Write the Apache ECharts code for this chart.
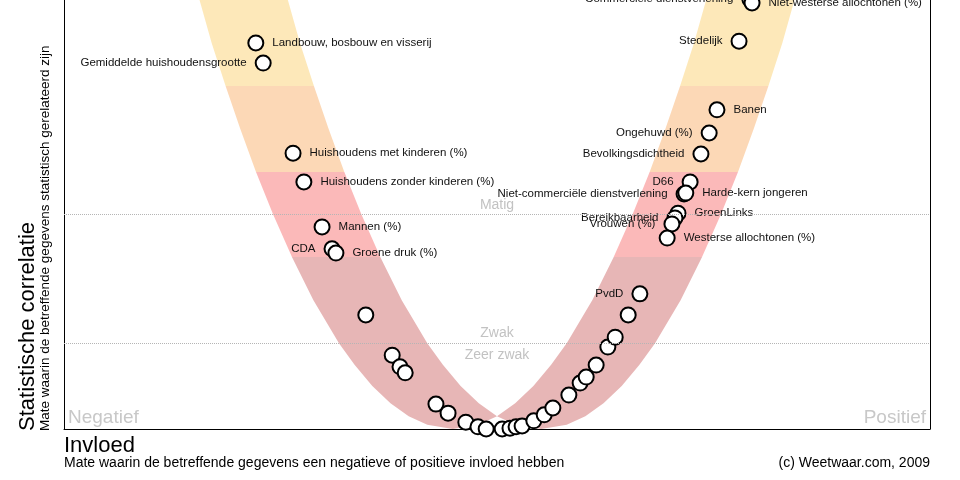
<!DOCTYPE html>
<html>
<head>
<meta charset="utf-8">
<script src="https://cdn.jsdelivr.net/npm/echarts@6/dist/echarts.min.js"></script>
<style>
  html, body { margin: 0; padding: 0; background: #fff; }
  #chart { width: 960px; height: 480px; }
</style>
</head>
<body>
<div id="chart"></div>
<script>
// punten: naam, invloed (x) en statistische correlatie (y)
const names = [
  'Landbouw, bosbouw en visserij', 'Gemiddelde huishoudensgrootte', 'Huishoudens met kinderen (%)',
  'Huishoudens zonder kinderen (%)', 'Mannen (%)', 'CDA', 'Groene druk (%)',
  '', '', '', '', '', '', '', '', '',
  '', '', '', '', '', '', '', '', '', '', '', '', '', '',
  'PvdD', 'GroenLinks', 'Bereikbaarheid', 'Vrouwen (%)', 'Westerse allochtonen (%)',
  'D66', 'Niet-commerciële dienstverlening', 'Harde-kern jongeren', 'Bevolkingsdichtheid',
  'Ongehuwd (%)', 'Banen', 'Stedelijk', 'Commerciële dienstverlening', 'Niet-westerse allochtonen (%)'
];
const influence = [
  -0.557, -0.540, -0.471, -0.446, -0.404, -0.381, -0.372,
  -0.303, -0.242, -0.224, -0.212, -0.141, -0.113, -0.072, -0.044, -0.025,
  0.012, 0.030, 0.044, 0.058, 0.085, 0.109, 0.129, 0.166, 0.192, 0.206, 0.229, 0.256, 0.273, 0.303,
  0.330, 0.418, 0.411, 0.404, 0.393,
  0.446, 0.432, 0.436, 0.471,
  0.490, 0.508, 0.559, 0.584, 0.589
];
const correlation = [
  0.900, 0.853, 0.643, 0.576, 0.471, 0.420, 0.410,
  0.266, 0.172, 0.145, 0.131, 0.058, 0.037, 0.016, 0.005, 0.000,
  0.000, 0.002, 0.005, 0.007, 0.019, 0.033, 0.049, 0.079, 0.107, 0.121, 0.149, 0.191, 0.214, 0.266,
  0.315, 0.503, 0.492, 0.478, 0.445,
  0.576, 0.548, 0.550, 0.641,
  0.690, 0.744, 0.904, 1.002, 0.993
];
const labelsLeft = ['Gemiddelde huishoudensgrootte', 'CDA', 'PvdD', 'Bereikbaarheid', 'Vrouwen (%)',
  'D66', 'Niet-commerciële dienstverlening', 'Bevolkingsdichtheid', 'Ongehuwd (%)', 'Stedelijk',
  'Commerciële dienstverlening'];

const bandLevels = [1.05, 1.0, 0.9, 0.8, 0.7, 0.6, 0.5, 0.4, 0.3, 0.2, 0.15, 0.1, 0.06, 0.03, 0.01, 0];
const bandCenter = [0.60, 0.585, 0.557, 0.525, 0.491, 0.455, 0.415, 0.371, 0.322, 0.263, 0.227, 0.186, 0.144, 0.102, 0.059, 0];
const bandHalfWidth = 0.102;
const bandBreaks = [0.8, 0.6, 0.4];
const bandColors = ['#fde8b9', '#fcd8b6', '#fbb9b9', '#e7b6b6'];

const font = 'Liberation Sans, Arial, sans-serif';
const chart = echarts.init(document.getElementById('chart'));

function renderBand(params, api) {
  const yTop = api.coord([0, bandLevels[0]])[1];
  const yBot = api.coord([0, 0])[1];
  const off = v => (bandLevels[0] - v) / bandLevels[0];
  const stops = [{ offset: 0, color: bandColors[0] }];
  bandBreaks.forEach((b, i) => {
    stops.push({ offset: off(b), color: bandColors[i] });
    stops.push({ offset: off(b), color: bandColors[i + 1] });
  });
  stops.push({ offset: 1, color: bandColors[bandColors.length - 1] });
  const fill = new echarts.graphic.LinearGradient(0, yTop, 0, yBot, stops, true);

  const branch = sign => {
    const pts = [];
    for (let i = 0; i < bandLevels.length; i++) {
      pts.push(api.coord([sign * (bandCenter[i] + bandHalfWidth), bandLevels[i]]));
    }
    for (let i = bandLevels.length - 1; i >= 0; i--) {
      pts.push(api.coord([sign * Math.abs(bandHalfWidth - bandCenter[i]), bandLevels[i]]));
    }
    return { type: 'polygon', shape: { points: pts }, style: { fill: fill } };
  };
  return { type: 'group', children: [branch(-1), branch(1)] };
}

const axisBase = {
  axisTick: { show: false }, axisLabel: { show: false }, splitLine: { show: false }
};

const option = {
  animation: false,
  grid: { left: 64, right: 30, top: 0, bottom: 51 },
  xAxis: Object.assign({
    type: 'value', min: -1, max: 1,
    axisLine: { show: true, onZero: false, lineStyle: { color: '#000', width: 1 } }
  }, axisBase),
  yAxis: [
    Object.assign({
      type: 'value', min: 0, max: 1, position: 'left',
      axisLine: { show: true, onZero: false, lineStyle: { color: '#000', width: 1 } }
    }, axisBase),
    Object.assign({
      type: 'value', min: 0, max: 1, position: 'right',
      axisLine: { show: true, onZero: false, lineStyle: { color: '#000', width: 1 } }
    }, axisBase)
  ],
  series: [
    {
      type: 'custom',
      renderItem: renderBand,
      data: [[0, 0]],
      clip: false,
      silent: true,
      z: 1
    },
    {
      type: 'scatter',
      z: 3,
      clip: false,
      symbol: 'circle',
      symbolSize: 15,
      itemStyle: { color: '#fff', borderColor: '#000', borderWidth: 2, opacity: 1 },
      emphasis: { disabled: true },
      label: {
        show: true,
        formatter: p => p.name,
        fontFamily: font, fontSize: 11.5, color: '#111', distance: 8
      },
      data: names.map((n, i) => ({
        name: n,
        value: [influence[i], correlation[i]],
        label: { position: labelsLeft.includes(n) ? 'left' : 'right' }
      })),
      markLine: {
        silent: true,
        symbol: 'none',
        lineStyle: { type: 'dotted', color: '#b5b5b5', width: 1 },
        label: { fontFamily: font, fontSize: 14, color: '#c2c2c2' },
        data: [
          { yAxis: 0.5, label: { formatter: 'Matig', position: 'insideMiddleTop', distance: 2 } },
          { yAxis: 0.2, label: { formatter: 'Zwak', position: 'insideMiddleTop', distance: 3 } },
          { yAxis: 0.2, label: { formatter: 'Zeer zwak', position: 'insideMiddleBottom', distance: 5 } }
        ]
      }
    }
  ],
  graphic: [
    { type: 'text', x: 28, y: 431, rotation: Math.PI / 2,
      style: { text: 'Statistische correlatie', fontFamily: font, fontSize: 22, fill: '#000', align: 'left', verticalAlign: 'middle' } },
    { type: 'text', x: 45, y: 431, rotation: Math.PI / 2,
      style: { text: 'Mate waarin de betreffende gegevens statistisch gerelateerd zijn', fontFamily: font, fontSize: 13.5, fill: '#000', align: 'left', verticalAlign: 'middle' } },
    { type: 'text', x: 64, y: 446,
      style: { text: 'Invloed', fontFamily: font, fontSize: 22, fill: '#000', align: 'left', verticalAlign: 'middle' } },
    { type: 'text', x: 64, y: 463,
      style: { text: 'Mate waarin de betreffende gegevens een negatieve of positieve invloed hebben', fontFamily: font, fontSize: 14, fill: '#000', align: 'left', verticalAlign: 'middle' } },
    { type: 'text', x: 930, y: 463,
      style: { text: '(c) Weetwaar.com, 2009', fontFamily: font, fontSize: 14, fill: '#000', align: 'right', verticalAlign: 'middle' } },
    { type: 'text', x: 68, y: 418,
      style: { text: 'Negatief', fontFamily: font, fontSize: 19, fill: '#c8c8c8', align: 'left', verticalAlign: 'middle' } },
    { type: 'text', x: 926, y: 418,
      style: { text: 'Positief', fontFamily: font, fontSize: 19, fill: '#c8c8c8', align: 'right', verticalAlign: 'middle' } }
  ]
};
chart.setOption(option);
</script>
</body>
</html>
